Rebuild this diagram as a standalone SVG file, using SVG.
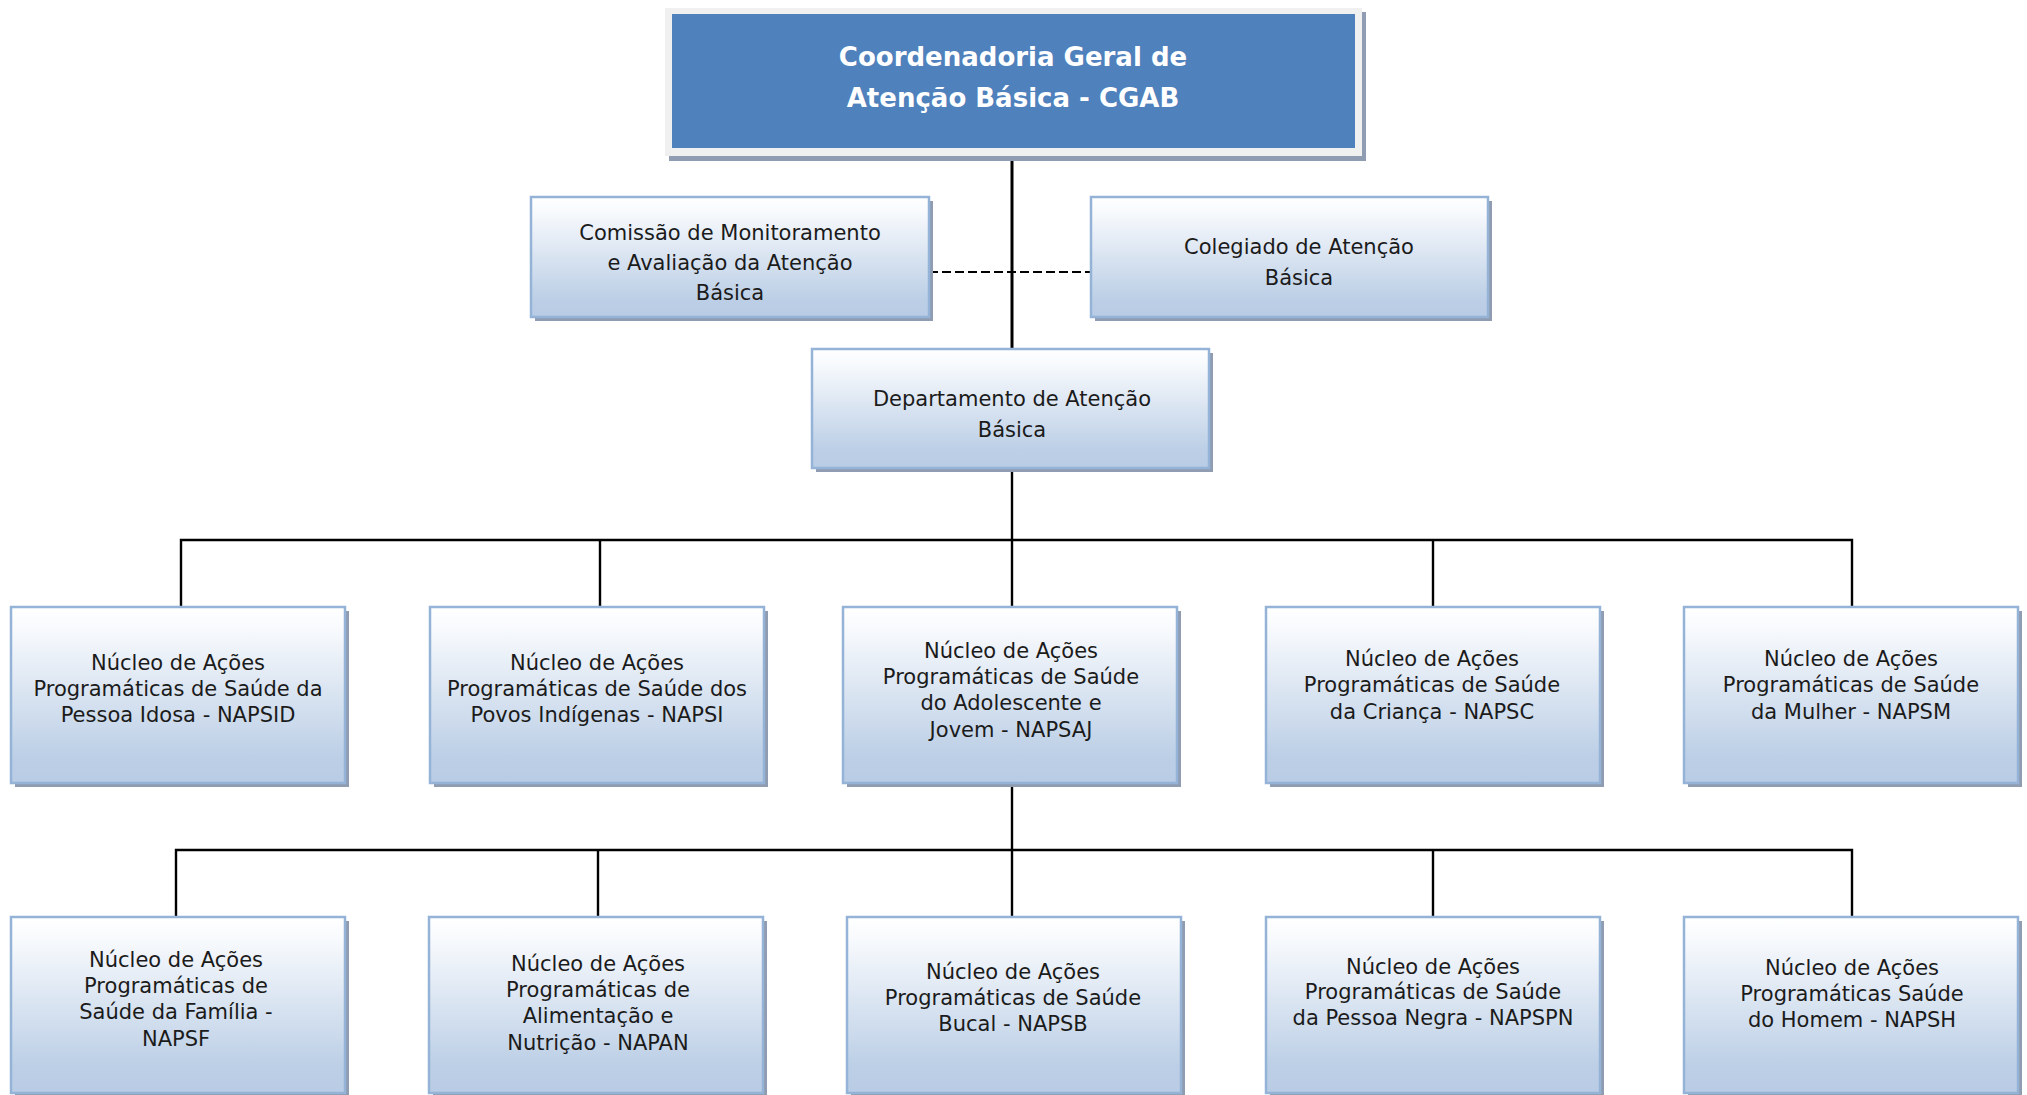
<svg xmlns="http://www.w3.org/2000/svg" width="2027" height="1095" viewBox="0 0 2027 1095">
<defs>
<linearGradient id="g" x1="0" y1="0" x2="0" y2="1">
<stop offset="0" stop-color="#ffffff"/>
<stop offset="0.12" stop-color="#f8fafd"/>
<stop offset="0.85" stop-color="#bccfe6"/>
<stop offset="1" stop-color="#b9cce5"/>
</linearGradient>
</defs>
<style>
.sh{fill:#8f9cb1}
.bx{fill:url(#g);stroke:#95b3d7;stroke-width:2.5}
.t{font-family:"DejaVu Sans","Liberation Sans",sans-serif;font-size:21px;fill:#1b1b1b;text-anchor:middle}
.tt{font-family:"DejaVu Sans","Liberation Sans",sans-serif;font-size:26px;font-weight:bold;fill:#ffffff;text-anchor:middle}
.ln{stroke:#000;stroke-width:2.4;fill:none}
.mv{stroke:#000;stroke-width:3;fill:none}
.dl{stroke:#000;stroke-width:2.2;fill:none;stroke-dasharray:9 4}
</style>
<rect width="2027" height="1095" fill="#ffffff"/>
<g id="connectors">
<line class="mv" x1="1012" y1="156" x2="1012" y2="349"/>
<line class="dl" x1="929" y1="272" x2="1091" y2="272"/>
<line class="ln" x1="1012" y1="468" x2="1012" y2="607"/>
<polyline class="ln" points="181,607 181,540 1852,540 1852,607"/>
<line class="ln" x1="600" y1="540" x2="600" y2="607"/>
<line class="ln" x1="1433" y1="540" x2="1433" y2="607"/>
<line class="ln" x1="1012" y1="783" x2="1012" y2="917"/>
<polyline class="ln" points="176,917 176,850 1852,850 1852,917"/>
<line class="ln" x1="598" y1="850" x2="598" y2="917"/>
<line class="ln" x1="1433" y1="850" x2="1433" y2="917"/>
</g>
<g id="cgab">
<rect x="669" y="12" width="697" height="149" class="sh"/>
<rect x="665" y="8" width="697" height="148" fill="#f0f0f0"/>
<rect x="672" y="14" width="683" height="134" fill="#4f81bd"/>
<text class="tt" x="1013" y="66">Coordenadoria Geral de</text>
<text class="tt" x="1013" y="107">Atenção Básica - CGAB</text>
</g>
<g id="comissao">
<rect x="535" y="201" width="398" height="120" class="sh"/>
<rect x="531" y="197" width="398" height="120" class="bx"/>
<text class="t" x="730" y="240">Comissão de Monitoramento</text>
<text class="t" x="730" y="270">e Avaliação da Atenção</text>
<text class="t" x="730" y="300">Básica</text>
</g>
<g id="colegiado">
<rect x="1095" y="201" width="397" height="120" class="sh"/>
<rect x="1091" y="197" width="397" height="120" class="bx"/>
<text class="t" x="1299" y="254">Colegiado de Atenção</text>
<text class="t" x="1299" y="285">Básica</text>
</g>
<g id="departamento">
<rect x="816" y="353" width="397" height="119" class="sh"/>
<rect x="812" y="349" width="397" height="119" class="bx"/>
<text class="t" x="1012" y="406">Departamento de Atenção</text>
<text class="t" x="1012" y="437">Básica</text>
</g>
<g id="napsid">
<rect x="15" y="611" width="334" height="176" class="sh"/>
<rect x="11" y="607" width="334" height="176" class="bx"/>
<text class="t" x="178" y="670">Núcleo de Ações</text>
<text class="t" x="178" y="696">Programáticas de Saúde da</text>
<text class="t" x="178" y="722">Pessoa Idosa - NAPSID</text>
</g>
<g id="napsi">
<rect x="434" y="611" width="334" height="176" class="sh"/>
<rect x="430" y="607" width="334" height="176" class="bx"/>
<text class="t" x="597" y="670">Núcleo de Ações</text>
<text class="t" x="597" y="696">Programáticas de Saúde dos</text>
<text class="t" x="597" y="722">Povos Indígenas - NAPSI</text>
</g>
<g id="napsaj">
<rect x="847" y="611" width="334" height="176" class="sh"/>
<rect x="843" y="607" width="334" height="176" class="bx"/>
<text class="t" x="1011" y="658">Núcleo de Ações</text>
<text class="t" x="1011" y="684">Programáticas de Saúde</text>
<text class="t" x="1011" y="710">do Adolescente e</text>
<text class="t" x="1011" y="737">Jovem - NAPSAJ</text>
</g>
<g id="napsc">
<rect x="1270" y="611" width="334" height="176" class="sh"/>
<rect x="1266" y="607" width="334" height="176" class="bx"/>
<text class="t" x="1432" y="666">Núcleo de Ações</text>
<text class="t" x="1432" y="692">Programáticas de Saúde</text>
<text class="t" x="1432" y="719">da Criança - NAPSC</text>
</g>
<g id="napsm">
<rect x="1688" y="611" width="334" height="176" class="sh"/>
<rect x="1684" y="607" width="334" height="176" class="bx"/>
<text class="t" x="1851" y="666">Núcleo de Ações</text>
<text class="t" x="1851" y="692">Programáticas de Saúde</text>
<text class="t" x="1851" y="719">da Mulher - NAPSM</text>
</g>
<g id="napsf">
<rect x="15" y="921" width="334" height="176" class="sh"/>
<rect x="11" y="917" width="334" height="176" class="bx"/>
<text class="t" x="176" y="967">Núcleo de Ações</text>
<text class="t" x="176" y="993">Programáticas de</text>
<text class="t" x="176" y="1019">Saúde da Família -</text>
<text class="t" x="176" y="1046">NAPSF</text>
</g>
<g id="napan">
<rect x="433" y="921" width="334" height="176" class="sh"/>
<rect x="429" y="917" width="334" height="176" class="bx"/>
<text class="t" x="598" y="971">Núcleo de Ações</text>
<text class="t" x="598" y="997">Programáticas de</text>
<text class="t" x="598" y="1023">Alimentação e</text>
<text class="t" x="598" y="1050">Nutrição - NAPAN</text>
</g>
<g id="napsb">
<rect x="851" y="921" width="334" height="176" class="sh"/>
<rect x="847" y="917" width="334" height="176" class="bx"/>
<text class="t" x="1013" y="979">Núcleo de Ações</text>
<text class="t" x="1013" y="1005">Programáticas de Saúde</text>
<text class="t" x="1013" y="1031">Bucal - NAPSB</text>
</g>
<g id="napspn">
<rect x="1270" y="921" width="334" height="176" class="sh"/>
<rect x="1266" y="917" width="334" height="176" class="bx"/>
<text class="t" x="1433" y="974">Núcleo de Ações</text>
<text class="t" x="1433" y="999">Programáticas de Saúde</text>
<text class="t" x="1433" y="1025">da Pessoa Negra - NAPSPN</text>
</g>
<g id="napsh">
<rect x="1688" y="921" width="334" height="176" class="sh"/>
<rect x="1684" y="917" width="334" height="176" class="bx"/>
<text class="t" x="1852" y="975">Núcleo de Ações</text>
<text class="t" x="1852" y="1001">Programáticas Saúde</text>
<text class="t" x="1852" y="1027">do Homem - NAPSH</text>
</g>
</svg>
